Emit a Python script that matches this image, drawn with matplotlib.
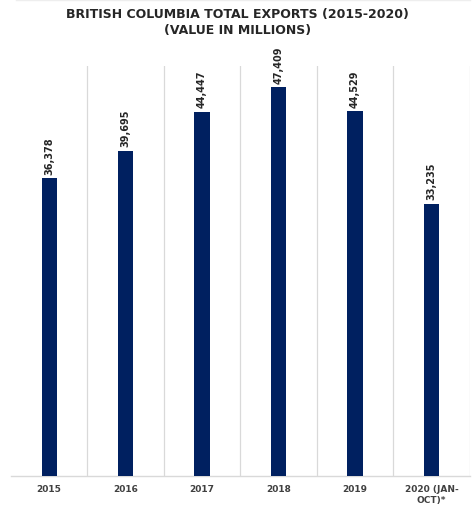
import numpy as np
import matplotlib
matplotlib.use("Agg")
import matplotlib.pyplot as plt
from matplotlib.lines import Line2D

annees = ["2015", "2016", "2017", "2018", "2019", "2020 (JAN-\nOCT)*"]
valeurs = [36378, 39695, 44447, 47409, 44529, 33235]
etiquettes = ["36,378", "39,695", "44,447", "47,409", "44,529", "33,235"]
titre = "BRITISH COLUMBIA TOTAL EXPORTS (2015-2020)\n(VALUE IN MILLIONS)"

couleur_barre = "#002060"
gris_texte = "#404040"
gris_grille = "#d9d9d9"

fig = plt.figure(figsize=(4.75, 5.06), dpi=100)
ax = fig.add_axes([0.023, 0.0573, 0.966, 0.810])

x = np.arange(len(annees))
ax.bar(x, valeurs, width=0.2, color=couleur_barre, zorder=3)

# valeurs au dessus des barres, tournées de 90 degrés
for xi, v, lab in zip(x, valeurs, etiquettes):
    ax.annotate(lab, (xi, v), xytext=(0, 3), textcoords="offset points",
                rotation=90, ha="center", va="bottom", fontsize=7,
                fontweight="bold", color="#262626")

ax.set_xlim(-0.5, len(annees) - 0.5)
ax.set_ylim(0, 50000)

# lignes verticales entre les catégories (et à droite)
for b in np.arange(0.5, len(annees), 1):
    ax.axvline(b, color=gris_grille, lw=0.9, zorder=1)

ax.set_xticks(x)
ax.set_xticklabels(annees, fontsize=6.5, fontweight="bold", color=gris_texte,
                   linespacing=1.3)
ax.tick_params(axis="x", length=0, pad=6)
ax.set_yticks([])
for s in ["top", "left", "right"]:
    ax.spines[s].set_visible(False)
ax.spines["bottom"].set_color(gris_grille)
ax.spines["bottom"].set_linewidth(1.0)

fig.text(0.5, 0.985, titre, ha="center", va="top", fontsize=9,
         fontweight="bold", color="#262626", linespacing=1.3)

# bordure légère en haut
fig.add_artist(Line2D([16 / 475, 470 / 475], [0.998, 0.998], color="#eeeeee", lw=1))

fig.savefig("out.png", dpi=100, facecolor="white")
